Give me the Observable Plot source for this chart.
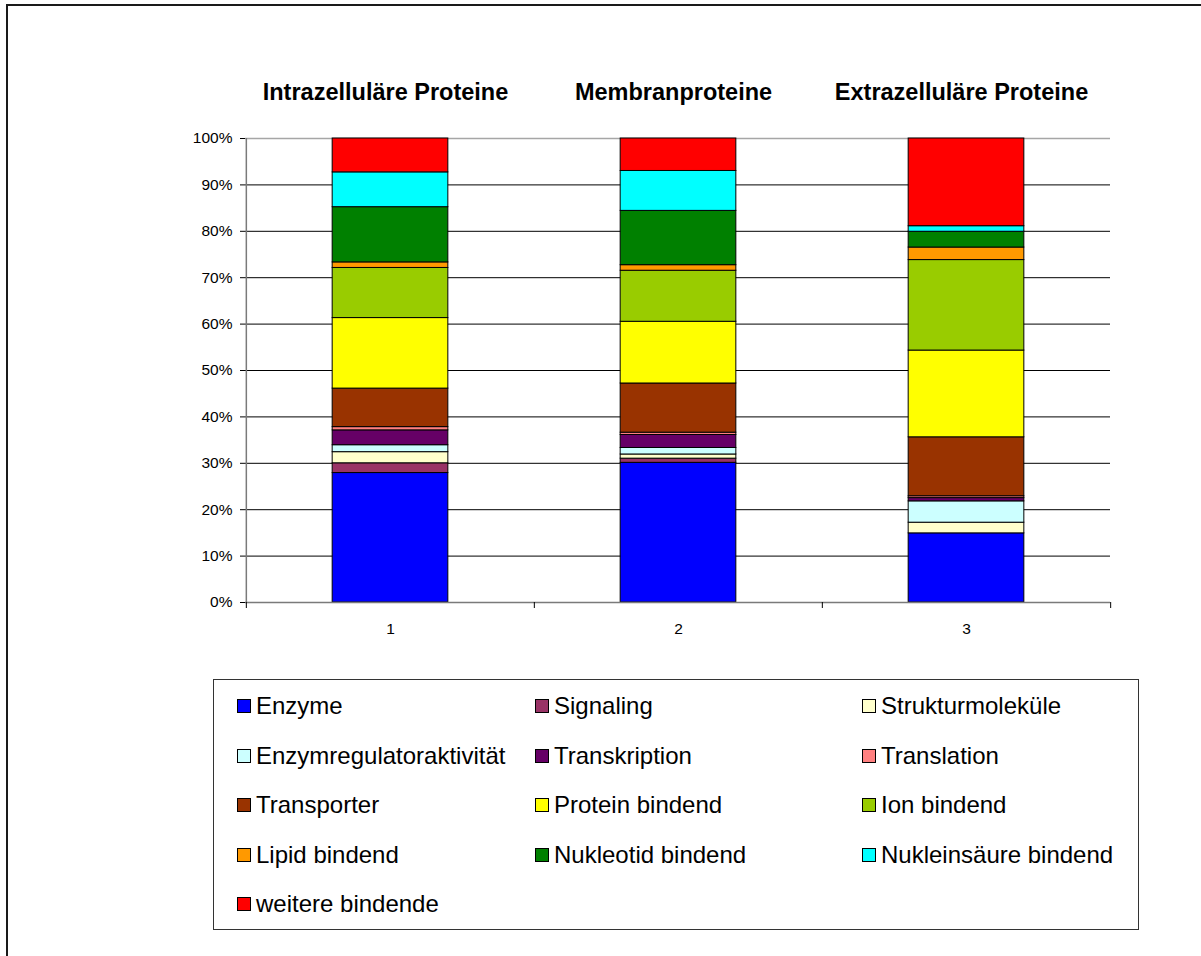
<!DOCTYPE html>
<html>
<head>
<meta charset="utf-8">
<script src="https://cdn.jsdelivr.net/npm/d3@7"></script>
<script src="https://cdn.jsdelivr.net/npm/@observablehq/plot@0.6"></script>
<style>
  html, body { margin: 0; padding: 0; background: #fff; }
  #wrap { position: relative; width: 1201px; height: 956px; overflow: hidden; font-family: "Liberation Sans", Arial, sans-serif; }
  #frame { position: absolute; left: 6px; top: 4px; width: 1400px; height: 1200px; border-left: 2px solid #1a1a1a; border-top: 2px solid #1a1a1a; }
  #chart { position: absolute; left: 0; top: 0; }
  #legend { position: absolute; left: 213px; top: 679px; width: 926px; height: 251px; box-sizing: border-box; border: 1px solid #333; background: #fff; }
  .item { position: absolute; height: 28px; display: flex; align-items: center; font-size: 24px; color: #000; white-space: nowrap; }
  .sw { width: 12px; height: 12px; border: 1px solid #000; margin-right: 5px; flex: none; }
</style>
</head>
<body>
<div id="wrap">
  <div id="frame"></div>
  <div id="chart"></div>
  <div id="legend"></div>
</div>
<script>
const groups = ["1", "2", "3"];
const titles = ["Intrazelluläre Proteine", "Membranproteine", "Extrazelluläre Proteine"];
const categories = [
  "Enzyme", "Signaling", "Strukturmoleküle",
  "Enzymregulatoraktivität", "Transkription", "Translation",
  "Transporter", "Protein bindend", "Ion bindend",
  "Lipid bindend", "Nukleotid bindend", "Nukleinsäure bindend",
  "weitere bindende"
];
const colors = [
  "#0000FF", "#993366", "#FFFFCC",
  "#CCFFFF", "#660066", "#FF8080",
  "#993300", "#FFFF00", "#99CC00",
  "#FF9900", "#008000", "#00FFFF",
  "#FF0000"
];
// percent shares per group, in stacking order (bottom to top)
const values1 = [27.9, 2.1, 2.4, 1.5, 3.2, 0.7, 8.3, 15.2, 10.8, 1.2, 11.9, 7.5, 7.3];
const values2 = [30.1, 0.9, 0.9, 1.4, 2.8, 0.5, 10.6, 13.3, 11.0, 1.2, 11.7, 8.6, 7.0];
const values3 = [14.9, 0.0, 2.3, 4.6, 0.7, 0.4, 12.7, 18.7, 19.5, 2.7, 3.4, 1.2, 18.9];
const yTicks = [0, 10, 20, 30, 40, 50, 60, 70, 80, 90, 100];
const gridTicks = [10, 20, 30, 40, 50, 60, 70, 80, 90];

const series = [values1, values2, values3];
const data = [];
groups.forEach((g, gi) => {
  categories.forEach((c, ci) => data.push({group: g, category: c, value: series[gi][ci]}));
});

const W = 1201, H = 660, mt = 138, mb = 58, ml = 245, mr = 91;
const bw = (W - ml - mr) / groups.length;
const barWidth = 116;
const inset = (bw - barWidth) / 2;

const chart = Plot.plot({
  width: W, height: H,
  marginTop: mt, marginBottom: mb, marginLeft: ml, marginRight: mr,
  style: {fontFamily: "'Liberation Sans', Arial, sans-serif", fontSize: "15px", color: "black", background: "transparent", overflow: "visible"},
  x: {domain: groups, padding: 0, axis: null},
  y: {domain: [0, 100], axis: null},
  color: {domain: categories, range: colors},
  marks: [
    Plot.ruleY(gridTicks, {stroke: "black", strokeWidth: 1}),
    Plot.ruleY([100], {stroke: "#a6a6a6", strokeWidth: 1.5}),
    Plot.barY(data, {x: "group", y: "value", fill: "category", stroke: "black", strokeWidth: 1, insetLeft: inset, insetRight: inset}),
    Plot.ruleY([0], {stroke: "#7a7a7a", strokeWidth: 1.5}),
    Plot.ruleX([groups[0]], {y1: 0, y2: 100, dx: -bw / 2, stroke: "#7a7a7a", strokeWidth: 1.5}),
    Plot.axisY({ticks: yTicks, tickFormat: d => d + "%", tickSize: 5, tickPadding: 8, label: null, fontSize: 15.5}),
    Plot.axisX({tickSize: 0, tickPadding: 20, label: null, fontSize: 15.5}),
    Plot.axisX({tickFormat: () => "", tickSize: 6, dx: -bw / 2, label: null}),
    Plot.axisX({ticks: [groups[groups.length - 1]], tickFormat: () => "", tickSize: 6, dx: bw / 2, label: null}),
    Plot.text(titles, {x: groups, text: titles, frameAnchor: "top", lineAnchor: "middle", dy: -46, dx: -5, fontSize: 23.5, fontWeight: "bold", fill: "black"})
  ]
});
document.getElementById("chart").appendChild(chart);

// legend
const legend = document.getElementById("legend");
const colLefts = [23, 321, 648], rowStep = 49.6, top0 = 26;
categories.forEach((c, i) => {
  const col = i % 3, row = Math.floor(i / 3);
  const it = document.createElement("div");
  it.className = "item";
  it.style.left = colLefts[col] + "px";
  it.style.top = (top0 + row * rowStep - 14) + "px";
  const sw = document.createElement("span");
  sw.className = "sw";
  sw.style.background = colors[i];
  const tx = document.createElement("span");
  tx.textContent = c;
  it.appendChild(sw);
  it.appendChild(tx);
  legend.appendChild(it);
});
</script>
</body>
</html>
